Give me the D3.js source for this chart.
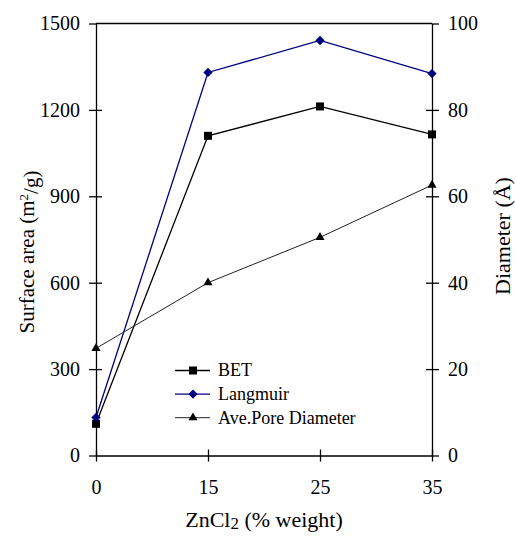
<!doctype html>
<html>
<head>
  <script src="https://cdnjs.cloudflare.com/ajax/libs/d3/7.8.5/d3.min.js" type="text/JavaScript"></script>
</head>
<body style="margin:0; background:#fff">
<svg height="538" width="516"></svg>
<script type="text/javascript">
var categories = ["0", "15", "25", "35"];
var bet = [110, 1110, 1212, 1115];
var langmuir = [132, 1330, 1441, 1326];
var poreDiameter = [24.8, 40, 50.5, 62.6];
var leftTicks = [0, 300, 600, 900, 1200, 1500];
var rightTicks = [0, 20, 40, 60, 80, 100];

var FONT = "Liberation Serif";
var svg = d3.select("svg");
var plotLeft = 96, plotRight = 432, plotTop = 23.5, plotBottom = 455.5;

var x = d3.scalePoint().domain(categories).range([plotLeft, plotRight]);
var yL = d3.scaleLinear().domain([0, 1500]).range([plotBottom, plotTop]);
var yR = d3.scaleLinear().domain([0, 100]).range([plotBottom, plotTop]);

// frame top line
svg.append("line")
  .attr("x1", plotLeft).attr("x2", plotRight)
  .attr("y1", plotTop).attr("y2", plotTop)
  .style("stroke", "#000").style("stroke-width", 1.3);

function styleAxis(g) {
  g.attr("font-family", FONT);
  g.selectAll("path, line").style("stroke", "#000").style("stroke-width", 1.3);
  g.selectAll("text").style("font-size", "20px").style("fill", "#000")
    .style("font-family", FONT);
}

// left axis
svg.append("g").attr("transform", "translate(" + plotLeft + ",0)")
  .call(d3.axisLeft(yL).tickValues(leftTicks).tickFormat(d3.format("d"))
    .tickSizeInner(7).tickSizeOuter(0).tickPadding(9))
  .call(styleAxis);
svg.append("g").attr("transform", "translate(" + plotLeft + ",0)")
  .call(d3.axisLeft(yL).tickValues(leftTicks.slice(1, 5)).tickSizeInner(-6).tickSizeOuter(0).tickFormat(""))
  .call(g => g.select(".domain").remove())
  .call(styleAxis);

// right axis
svg.append("g").attr("transform", "translate(" + plotRight + ",0)")
  .call(d3.axisRight(yR).tickValues(rightTicks).tickFormat(d3.format("d"))
    .tickSizeInner(7).tickSizeOuter(0).tickPadding(9))
  .call(styleAxis);
svg.append("g").attr("transform", "translate(" + plotRight + ",0)")
  .call(d3.axisRight(yR).tickValues(rightTicks.slice(1, 5)).tickSizeInner(-6).tickSizeOuter(0).tickFormat(""))
  .call(g => g.select(".domain").remove())
  .call(styleAxis);

// bottom axis
svg.append("g").attr("transform", "translate(0," + plotBottom + ")")
  .call(d3.axisBottom(x).tickSizeInner(6).tickSizeOuter(0).tickPadding(18))
  .call(styleAxis);
svg.append("g").attr("transform", "translate(0," + plotBottom + ")")
  .call(d3.axisBottom(x).tickSizeInner(-6).tickSizeOuter(0).tickFormat(""))
  .call(g => g.select(".domain").remove())
  .call(styleAxis);

// series
var diamond = d3.symbolDiamond2 || d3.symbolDiamond;
var series = [
  { name: "BET", values: bet, scale: yL, color: "#000", fill: "#000", width: 1.3, symbol: d3.symbolSquare, size: 64 },
  { name: "Langmuir", values: langmuir, scale: yL, color: "#000080", fill: "#000080", width: 1.3, symbol: diamond, size: 55 },
  { name: "Ave.Pore Diameter", values: poreDiameter, scale: yR, color: "#222", fill: "#000", width: 1, symbol: d3.symbolTriangle, size: 36 }
];

var line = d3.line();
series.forEach(s => {
  var pts = s.values.map((v, i) => [x(categories[i]), s.scale(v)]);
  svg.append("path")
    .attr("d", line(pts))
    .style("fill", "none")
    .style("stroke", s.color)
    .style("stroke-width", s.width);
  svg.append("g").selectAll("path")
    .data(pts)
    .enter()
    .append("path")
    .attr("transform", d => "translate(" + d[0] + "," + d[1] + ")")
    .attr("d", d3.symbol().type(s.symbol).size(s.size))
    .style("fill", s.fill);
});

// legend
var legend = svg.append("g").attr("transform", "translate(175,370.5)");
series.forEach((s, i) => {
  var row = legend.append("g").attr("transform", "translate(0," + (i * 23.6) + ")");
  row.append("line").attr("x1", 0).attr("x2", 35).attr("y1", 0).attr("y2", 0)
    .style("stroke", s.color).style("stroke-width", s.width);
  row.append("path").attr("transform", "translate(18,0)")
    .attr("d", d3.symbol().type(s.symbol).size(s.size))
    .style("fill", s.fill);
  row.append("text").attr("x", 43).attr("y", 0).attr("dy", "0.33em")
    .style("font-family", FONT)
    .style("font-size", "18px").text(s.name);
});

// center a text (possibly with tspans) on its own origin
function centerText(t) {
  var len = t.node().getComputedTextLength();
  t.attr("x", -len / 2);
}

// axis titles
var lt = svg.append("text")
  .attr("transform", "translate(34,252) rotate(-90)")
  .style("font-family", FONT)
  .style("font-size", "21px");
lt.append("tspan").text("Surface area (m");
lt.append("tspan").attr("dy", "-0.45em").style("font-size", "13px").text("2");
lt.append("tspan").attr("dy", "0.45em").text("/g)");
centerText(lt);

var rt = svg.append("text")
  .attr("transform", "translate(510,236) rotate(-90)")
  .style("font-family", FONT)
  .style("font-size", "22px")
  .text("Diameter (Å)");
centerText(rt);

var bt = svg.append("text")
  .attr("transform", "translate(264,527)")
  .style("font-family", FONT)
  .style("font-size", "22px");
bt.append("tspan").text("ZnCl");
bt.append("tspan").attr("dy", "0.1em").style("font-size", "17px").text("2");
bt.append("tspan").attr("dy", "-0.1em").text(" (% weight)");
centerText(bt);
</script>
</body>
</html>
